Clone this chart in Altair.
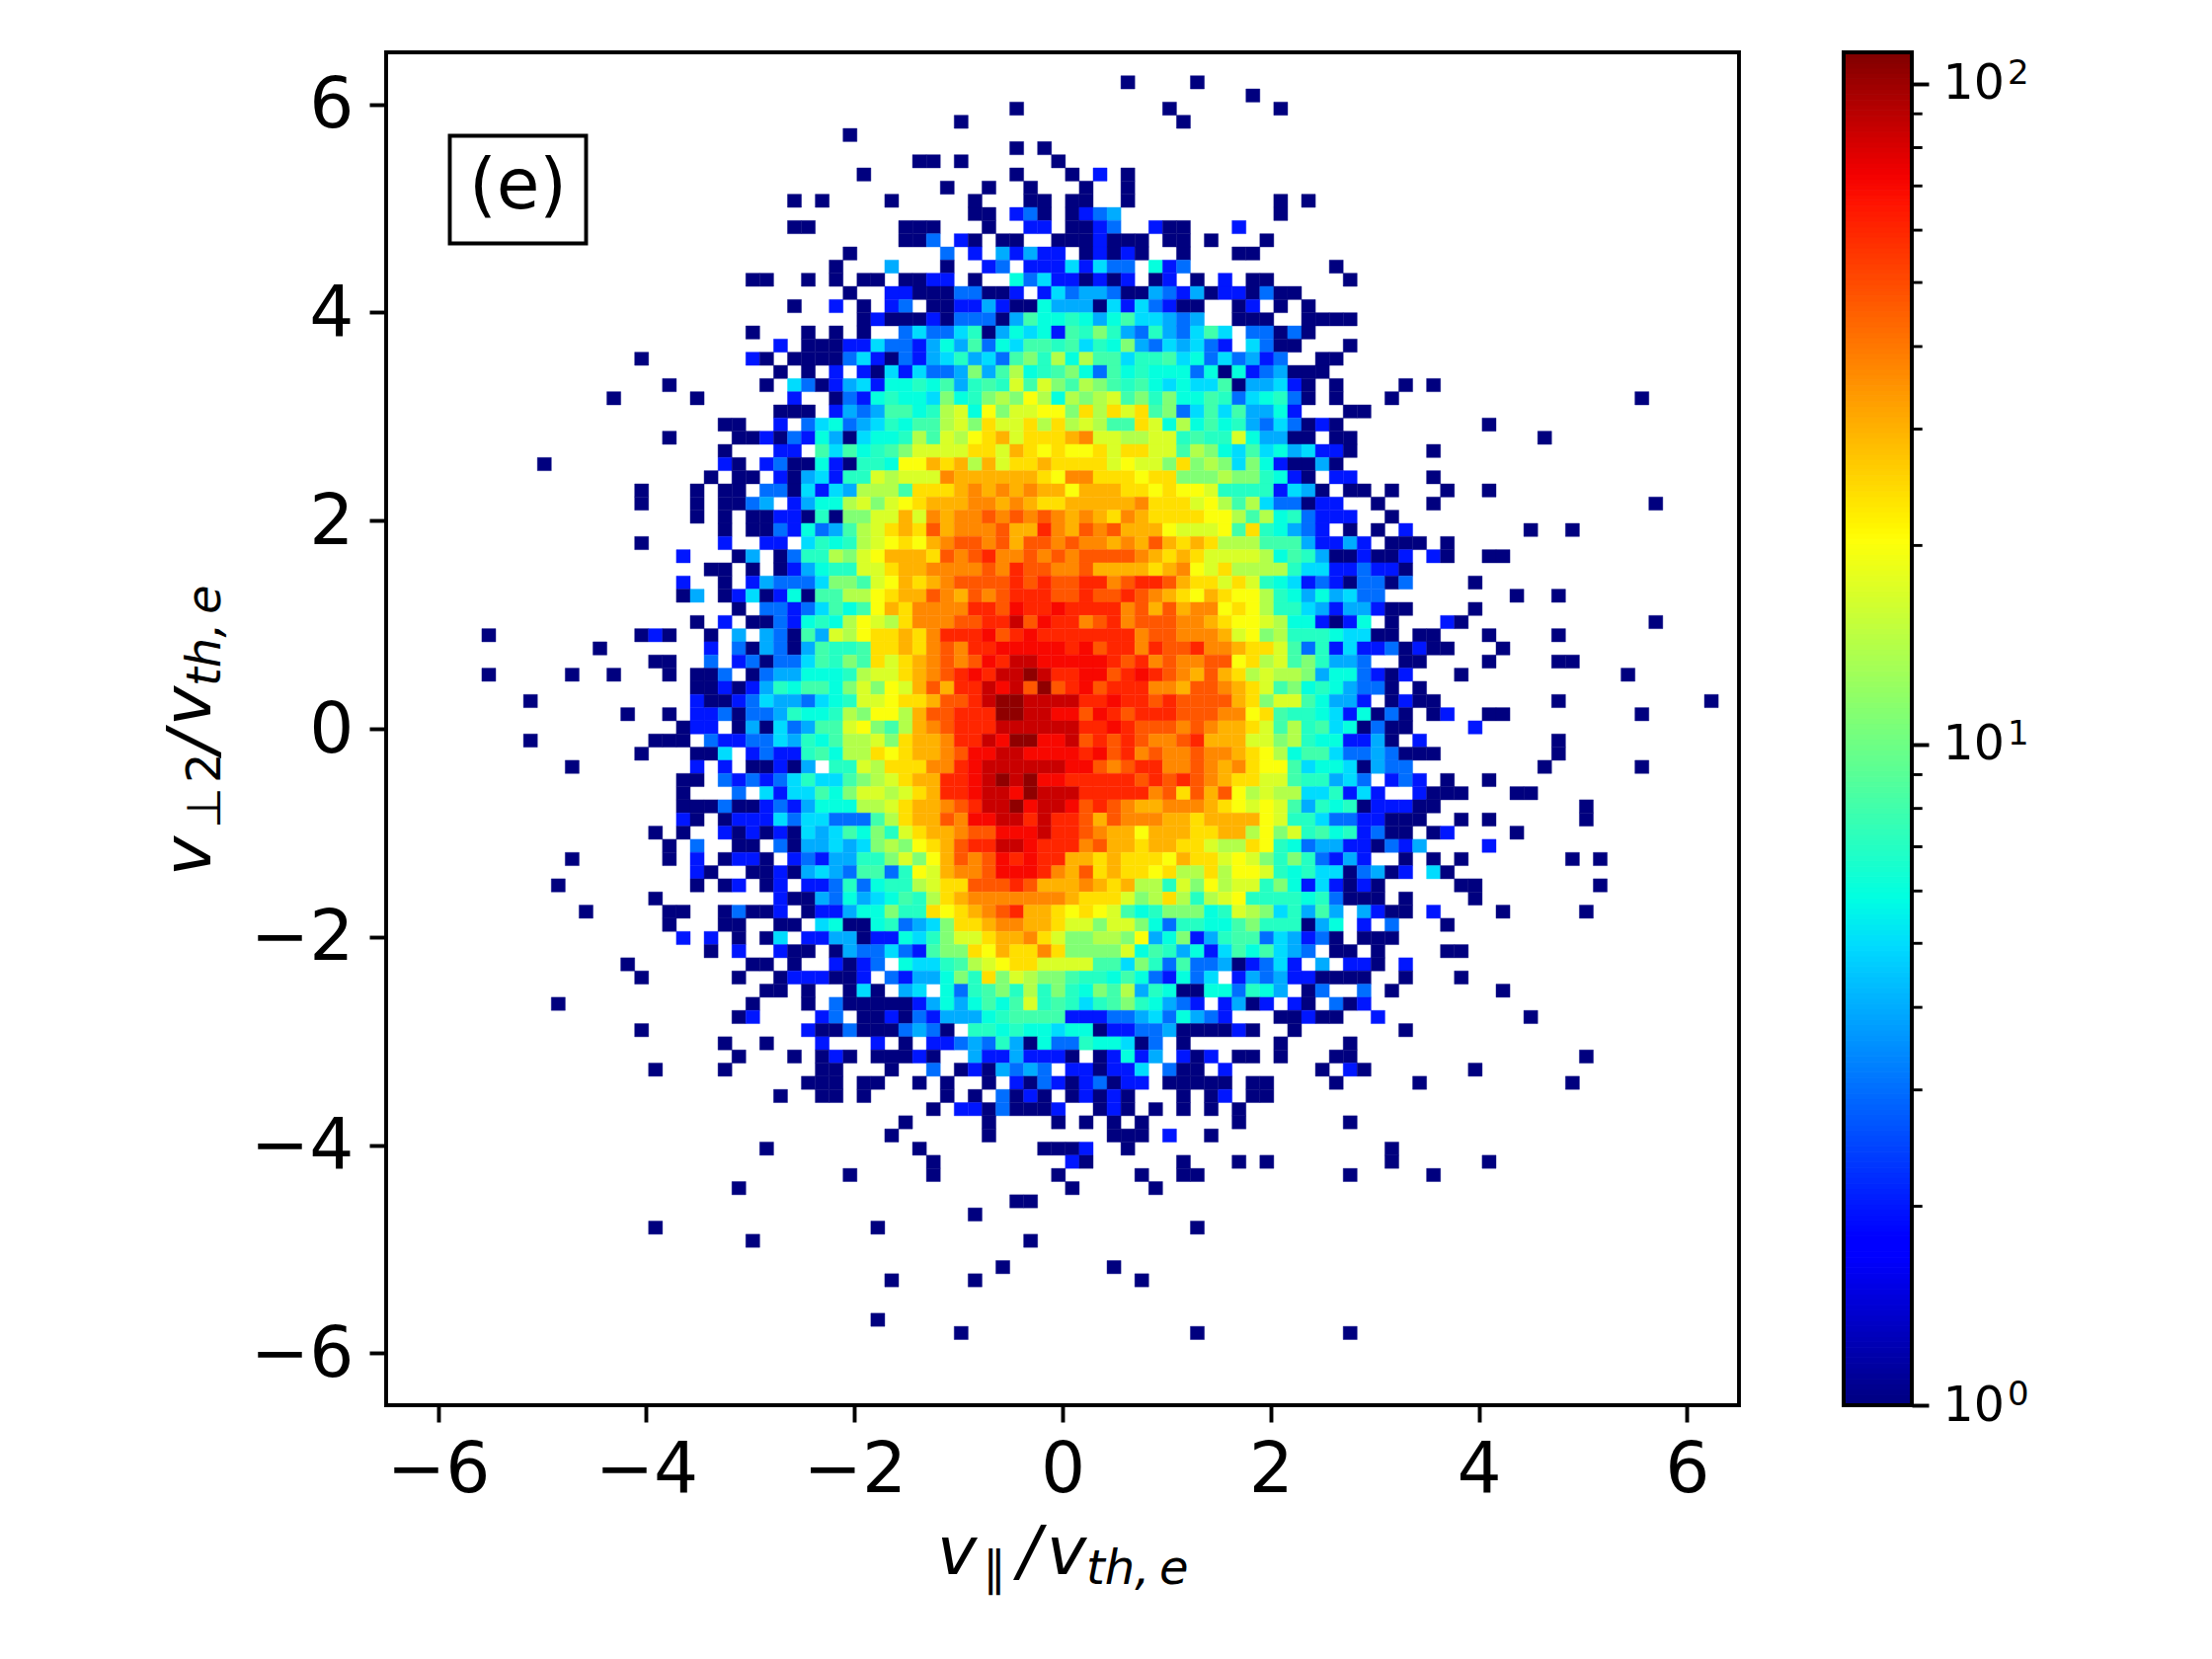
import altair as alt
import numpy as np
import pandas as pd

# 2d histogram: one entry per row (top to bottom),
# "start column:cell codes", with . for an empty cell
rows = [
    "46:1 51:1",
    "55:1",
    "38:1 49:1 57:1",
    "34:1 50:1",
    "26:1",
    "38:1 40:1",
    "31:11 34:1 41:1",
    "27:1 38:1 42:1.2.1",
    "33:1 36:1 39:1 43:1 46:1",
    "22:1 24:1 29:1 35:1 39:11 42:11 46:1 57:1 59:1",
    "35:11 38:231 42:1234 57:1",
    "22:11 30:111 36:1 39:22 42:1123 48:211 54:2",
    "30:113 34:21 37:11 41:1112111 49:11 52:1 56:1",
    "26:1 33:3 35:2 37:42422 43:12121 50:1 54:11",
    "25:1 29:4 33:1 36:23 39:22252533 48:623 61:1",
    "19:11 23:1 25:1 27:11 30:1122 35:1 38:635221212 48:12 51:1 53:2 55:11 62:1",
    "26:1 29:2211133112 40:2534431143241221311",
    "22:1 25:2 27:1 29:23 32:11224211644415253211 54:12 57:1 59:1",
    "27:1211121333148667646855434 54:111 59:1111",
    "19:1 23:1 25:1 27:1 30:353357146562 42:87a743743585 55:33131",
    "21:2 23:11122533246483658878576a4354532 55:5311 62:1",
    "11:1 19:21 22:1111 26:3521324574538a7b6b88577856353423 60:11",
    "21:1 23:1 25:2 27:21525334a48b678 42:a638676663616234111",
    "13:1 20:1 22:5312452667684787c8ca 42:8ba878656558144521 61:1 66:1 68:1",
    "9:1 15:1 22:2 25:13267665a67abadb6 42:babc8a7a6687356731 61:1 65:1 83:1",
    "21:111 25:24348867bc6daccdd 42:aebece8a358584462 62:11",
    "17:11 21:2 23:3563457688bcaeccebe 42:bcb88ec6b68674353121 72:1",
    "13:1 18:1121326415667b8cbdefceee 42:fgccbbcc7877c64411 61:11 76:1",
    "17:1 21:22 24:858678acccceecfede 42:ddeceecc8ba6585645221 68:1",
    "4:1 17:21 20:2311621776ddfefbfceefe 42:eeecdccaeaba5a621141",
    "16:1 18:11 21:2145277cbcccgffffffed 42:ggeeedeeaaabaa7621 61:22 68:1",
    "11:1 15:1 17:11 20:3315254bbb8eeefgfgfgff 42:dfffeededdc77772541 62:11 65:1 69:1 72:1",
    "11:1 15:1 17:1134 22:2466bcacdefffggfgfee 42:fffffgeeecdb8b533122 64:1 68:1 84:1",
    "15:1 17:1 19:1122171aaccfcgfgghghghg 42:fgfegfeeeeddb8b673222 65:1",
    "17:1 19:11326348bcefehfggghffig 42:fhghfffdcccd8e76432 62:1 64:1 66:2 75:1 78:1",
    "11:1 17:2 20:22 23:5767bcdedfghhghfhhg 42:hggfgfhfefebbb88842242 65:111 69:1",
    "14:2 18:14 21:1377bacdfffehghigghgh 42:ghhhhgfefeccccb6874112112 68:21 72:11",
    "16:11 19:1 21:124677cceffgggghgihhg 42:ghffffefgdcebbbb755223221",
    "14:2 17:1 19:243335aa8cdfefghhhhihih 42:hiighiihfeecec76523213313 71:1",
    "14:14 17:125126188bbdeffhgfhghiiih 42:hihhihgfedfeddb76464533 74:1 77:1",
    "18:1 20:33235868dfeggggiihjiij 42:iiiighfhfggdedb7754244211 71:1",
    "15:1 17:2 19:11 21:32676bdcbeggghhiikhji 42:ighighhhggfeddcb662126 65:1 69:21 84:1",
    "0:1 11:121 16:1 18:4 20:43184cbdeefegiiijhijii 42:iiiiighhgggfcdab77765511 67:11 72:1 77:1",
    "8:1 16:2 18:3143148778eefeghgiijjjjj 42:ijhiigihhiggfeec837252231211 73:1",
    "12:11 16:3 18:23133587a8ecefghghjikkjj 42:jjjihighgghhdebc8a7443 66:11 72:1 77:11",
    "0:1 6:1 9:1 13:1 15:113 19:13446667bccefghijikklki 42:ijjhijihgfhfebcbba4663212 70:1 82:1",
    "15:11212476886acadcfhfiikjkhlh 42:ijhiiiggfhhgfec8a6764331 67:1",
    "3:1 15:211235443567ccdeefhhikllkkk 42:kiijiihihhhhfeacc86442 65:1211 77:1 88:1",
    "10:1 13:1 15:22313347667baddbfhhiiillkkj 42:jhjihiiihhhggde8776526131 68:12 72:11 83:1",
    "14:122 18:14153488cda8bfghiiikkkkk 42:kiijihhhghgffec8b78561311 71:2",
    "3:1 12:111 16:3223354768bbcaeffgiikjlljj 42:khihihgghifffccab7662241 67:2 77:1",
    "11:1 15:115 19:2322786bbedeffghjjkkjjj 42:jijhighgghggfedb68853343111 77:1",
    "6:1 15:2 17:2 19:11214 25:77cbeeeggijkkkkkk 42:jjhghiigghgfgedd856651433 76:1 83:1",
    "14:11 17:3232357558abceffiijklkljj 42:iiiiihihihgfeecc877453 65:232 69:1 72:1",
    "14:1 18:3 20:525586accbcefiijkkjlkk 42:kiiiiighehfhdbcbb557252 67:2111 74:11",
    "14:1113112324666bbceffghikkljkk 42:jhihgffgggfedcdc84767122211 79:1",
    "14:21 17:122253553338beffhgjjkkiki 42:ihfhgggffeffffdc7753322111 70:1 72:1 79:1",
    "12:1 14:1 17:21212154586a7ceffghhjjjki 42:ihgffdfffeeffbdac78672311 68:12 74:1",
    "13:1 15:3 18:11 21:3144545abadefhiikkjii 42:ighffeffeecbbed76344221324 72:2",
    "6:1 13:1 15:2 17:1221 22:2324477acadfhghjijii 42:ffefeeedfeecdca7a73242 66:1 68:1 70:1 78:1 80:1",
    "15:21 19:112145438837dcfgghjjjig 42:fhefeedebbebddc7675513412 68:51",
    "5:1 15:1 17:12 20:12 23:22373677bceehhhihff 42:fgfefbb7cadbcc7a6252121 70:11 80:1",
    "12:1 21:21143645687befggggggg 42:feeecabeb7bcd7777673111 66:1 71:1",
    "7:1 13:11 17:13112 23:122466a77edefghiffe 42:dedc867aaa67cba57484 63:4211 68:2 73:1 79:1",
    "13:1 17:11 21:11 24:561167345aeefggffe 42:ccacca6377668a777146 63:2 65:3 69:1",
    "14:2 16:2 18:1 20:15 23:2244122657acceffgec 42:aabbad46a24788354231 63:111",
    "16:1 18:2 21:211 25:14335328aaedfeege 42:aaaac6874625868543 61:11 64:1 69:11",
    "10:1 19:11 22:1 25:2123 30:65578bcdeecc 42:cc885a73833412352 60:4 62:221 66:2",
    "11:1 18:1 21:1222112 29:32446a7eacbaa 42:87768632635 54:2434221111 66:1 70:1",
    "20:11 23:1 26:151 30:45 33:6378a7b7a76a8b47611663764 59:13 63:3 65:1 73:1",
    "5:1 19:1 23:1 25:31111124646868c787578a76432 53:2412 58:21 61:312",
    "18:12 24:23 27:112132444678888222334536432 57:11211 64:2 75:1",
    "11:1 23:21131113431 35:776766566122334111121 58:1 66:1",
    "17:1 20:1 24:2 28:2 30:1 32:22343741633766513 50:1 57:1 62:1",
    "18:1 22:1 24:121 28:11121 35:42242221 44:12624 50:212 54:11 57:1 61:11 79:1",
    "12:1 17:1 24:11 29:1 32:3 34:1214343 42:221225 49:311 53:2 60:1 62:21 71:1",
    "23:111 27:11 31:1 33:1 36:1 38:2132123122 49:11111 55:11 61:1 67:1 78:1",
    "21:1 24:11 27:1 33:1 35:1 37:3121 42:12121 50:1 52:12 55:11",
    "32:1 34:22131112 44:121 48:1 50:1 52:1 54:1",
    "30:1 36:1 41:1 43:1 45:1 47:1 54:1 62:1",
    "29:1 36:1 45:111 49:2 52:1",
    "20:1 31:1 40:111 43:2 46:1 65:1",
    "32:1 42:21 50:1 54:1 56:1 65:1 72:1",
    "26:1 32:1 41:1 47:1 50:11 62:1 68:1",
    "18:1 42:1 48:1",
    "38:11",
    "35:1",
    "12:1 28:1 51:1",
    "19:1 39:1",
    "",
    "37:1 45:1",
    "29:1 35:1 47:1",
    "",
    "",
    "28:1",
    "34:1 51:1 62:1",
]

# what each code means as a count in the bin
code_counts = {"1": 1, "2": 2, "3": 3, "4": 4, "5": 5, "6": 6, "7": 7, "8": 8,
               "a": 11, "b": 14, "c": 17, "d": 20, "e": 24, "f": 30, "g": 37,
               "h": 47, "i": 60, "j": 70, "k": 85, "l": 105}

# bin edges
x_start = -5.58
x_step = 0.1335
y_start = 6.275
y_step = 0.1265

x_ticks = [-6, -4, -2, 0, 2, 4, 6]
y_ticks = [-6, -4, -2, 0, 2, 4, 6]
cbar_major = [1, 10, 100]
cbar_powers = ["0", "1", "2"]
cbar_minor = [2, 3, 4, 5, 6, 7, 8, 9, 20, 30, 40, 50, 60, 70, 80, 90]
vmax = 111.5

# matplotlib's jet, as its own knots
jet_pos = [0, 0.11, 0.125, 0.34, 0.35, 0.375, 0.64, 0.65, 0.66, 0.89, 0.91, 1]
jet_r = [0, 0, 0, 0, 0, 0, 1, 1, 1, 1, 0.9545, 0.5]
jet_g = [0, 0, 0, 0.86, 0.9, 1, 1, 0.963, 0.926, 0.074, 0, 0]
jet_b = [0.5, 1, 1, 1, 0.968, 0.887, 0.032, 0, 0, 0, 0, 0]

jet_domain = [float(10 ** (p * np.log10(vmax))) for p in jet_pos]
jet_range = ["rgb(%d,%d,%d)" % (r * 255, g * 255, b * 255)
             for r, g, b in zip(jet_r, jet_g, jet_b)]
color_scale = alt.Scale(type="log", domain=jet_domain, range=jet_range, interpolate="rgb")

FONT = "DejaVu Sans"
PLOT = 1370

cells = []
for r, row in enumerate(rows):
    for part in row.split():
        start, codes = part.split(":")
        for k, code in enumerate(codes):
            if code == ".":
                continue
            c = int(start) + k
            cells.append({
                "x0": x_start + c * x_step,
                "x1": x_start + (c + 1) * x_step,
                "y0": y_start - (r + 1) * y_step,
                "y1": y_start - r * y_step,
                "count": code_counts[code],
            })
df = pd.DataFrame(cells)

heat = alt.Chart(df).mark_rect(strokeWidth=0.4).encode(
    x=alt.X("x0:Q", scale=alt.Scale(domain=[-6.5, 6.5], nice=False, zero=False),
            axis=alt.Axis(values=x_ticks, title=None, grid=False, domain=False, format="d",
                          tickSize=17, tickWidth=3.9, tickColor="black", labelFontSize=71,
                          labelFont=FONT, labelColor="black", labelPadding=14, labelFlush=False)),
    x2="x1:Q",
    y=alt.Y("y0:Q", scale=alt.Scale(domain=[-6.5, 6.5], nice=False, zero=False),
            axis=alt.Axis(values=y_ticks, title=None, grid=False, domain=False, format="d",
                          tickSize=17, tickWidth=3.9, tickColor="black", labelFontSize=71,
                          labelFont=FONT, labelColor="black", labelPadding=16, labelOffset=2)),
    y2="y1:Q",
    color=alt.Color("count:Q", scale=color_scale, legend=None),
    stroke=alt.Stroke("count:Q", scale=color_scale, legend=None),
)


def piece(text, x, y, size=68, style="normal", angle=0):
    # one run of the math labels, placed relative to the plot corner
    return alt.Chart(pd.DataFrame({"t": [text]})).mark_text(
        font=FONT, fontSize=size, fontStyle=style, angle=angle, align="left",
        baseline="alphabetic", color="black",
    ).encode(x=alt.value(x), y=alt.value(y), text="t:N")


box = alt.Chart(pd.DataFrame({"t": ["(e)"]})).mark_rect(
    fill="white", stroke="black", strokeWidth=3.9
).encode(x=alt.value(64.5), x2=alt.value(202.5), y=alt.value(84.5), y2=alt.value(193.5))
box_text = alt.Chart(pd.DataFrame({"t": ["(e)"]})).mark_text(
    font=FONT, fontSize=71, align="center", baseline="alphabetic", color="black"
).encode(x=alt.value(133.5), y=alt.value(157.5), text="t:N")

x_title = [
    piece("v", 558, 1541, style="italic"),
    piece("\u2225", 604, 1551.5, size=48),
    piece("/", 640, 1541, style="italic"),
    piece("v", 669, 1541, style="italic"),
    piece("th,", 709, 1551, size=48, style="italic"),
    piece("e", 783, 1551, size=48, style="italic"),
]
y_title = [
    piece("v", -178, 834, style="italic", angle=270),
    piece("\u22a5", -168, 786, size=48, angle=270),
    piece("2", -168, 740, size=48, angle=270),
    piece("/", -173, 710, style="italic", angle=270),
    piece("v", -178, 682, style="italic", angle=270),
    piece("th,", -168, 642, size=48, style="italic", angle=270),
    piece("e", -168, 569, size=48, style="italic", angle=270),
]

main = alt.layer(heat, box, box_text, *x_title, *y_title).properties(width=PLOT, height=PLOT)

# colour bar: one thin cell per colour step, on a log axis
edges = np.geomspace(1, vmax, 257)
bar_df = pd.DataFrame({"lo": edges[:-1], "hi": edges[1:],
                       "mid": np.sqrt(edges[:-1] * edges[1:])})
bar_y = alt.Scale(type="log", domain=[1, vmax], nice=False)
bar_axis = alt.Axis(orient="right", values=cbar_major, title=None, grid=False, domain=False,
                    tickSize=17, tickWidth=3.9, tickColor="black", labelFontSize=49,
                    labelFont=FONT, labelColor="black", labelPadding=14, labelExpr="'10'")

bar = alt.Chart(bar_df).mark_rect(strokeWidth=1).encode(
    y=alt.Y("lo:Q", scale=bar_y, axis=bar_axis),
    y2="hi:Q",
    color=alt.Color("mid:Q", scale=color_scale, legend=None),
    stroke=alt.Stroke("mid:Q", scale=color_scale, legend=None),
)
minor = alt.Chart(pd.DataFrame({"v": cbar_minor})).mark_rule(color="black", strokeWidth=2.9).encode(
    y=alt.Y("v:Q", scale=bar_y, axis=bar_axis),
    x=alt.value(69),
    x2=alt.value(79.7),
)
powers = alt.Chart(pd.DataFrame({"v": cbar_major, "p": cbar_powers})).mark_text(
    font=FONT, fontSize=34, align="left", baseline="alphabetic", color="black"
).encode(
    y=alt.Y("v:Q", scale=bar_y, axis=bar_axis),
    x=alt.value(166),
    text="p:N",
)
frame = alt.Chart(pd.DataFrame({"v": [1]})).mark_rect(
    fill="transparent", stroke="black", strokeWidth=3.9
).encode(x=alt.value(0), x2=alt.value(69), y=alt.value(0), y2=alt.value(PLOT))
cbar = alt.layer(bar, minor, powers, frame).properties(width=69, height=PLOT)

chart = alt.hconcat(main, cbar, spacing=100).properties(
    padding={"left": 149, "top": 41, "right": 5, "bottom": 5},
    background="white",
).configure_view(stroke="black", strokeWidth=3.9)

chart.save("out.html", embed_options={"renderer": "svg", "actions": False})
